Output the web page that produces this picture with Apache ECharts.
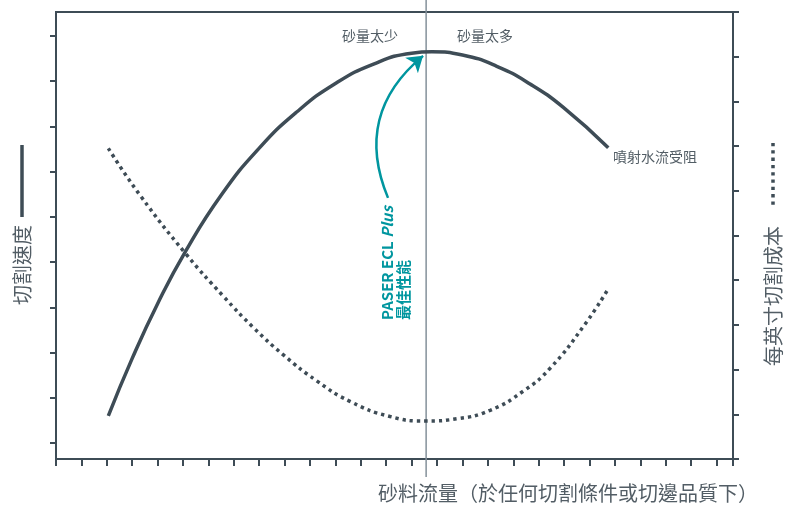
<!DOCTYPE html>
<html>
<head>
<meta charset="utf-8">
<script src="https://cdn.jsdelivr.net/npm/echarts@6/dist/echarts.min.js"></script>
<style>
  html, body { margin: 0; padding: 0; background: #fff; }
  #chart { width: 786px; height: 506px; }
</style>
</head>
<body>
<div id="chart"></div>
<script>
// 切割速度 (left axis) — [砂料流量, 速度]
const speedData = [
  [2.06, 1.60], [3.00, 2.87], [4.00, 4.08], [5.11, 5.25], [6.50, 6.48],
  [8.00, 7.52], [9.50, 8.33], [11.00, 8.95], [12.50, 9.38], [14.00, 9.62],
  [14.80, 9.65], [16.00, 9.58], [17.35, 9.33], [18.66, 8.94], [19.97, 8.42],
  [21.74, 7.53]
];
// 每英寸切割成本 (right axis)
const costData = [
  [2.06, 6.95], [3.31, 5.90], [5.11, 4.59], [6.59, 3.64], [7.77, 2.94],
  [8.95, 2.33], [10.26, 1.75], [11.57, 1.29], [13.15, 0.95], [14.57, 0.85],
  [15.78, 0.90], [17.09, 1.09], [18.40, 1.52], [19.45, 2.03], [20.83, 3.02],
  [21.73, 3.80]
];
// 最佳點分隔線 and arrow
const optimumX = 14.57;
const arrowCoords = [[13.07, 6.42], [14.45, 9.56]];
const leftTickValues = [1, 2, 3, 4, 5, 6, 7, 8, 9, 10];

const xName = '砂料流量（於任何切割條件或切邊品質下）';
const leftName = '切割速度';
const rightName = '每英寸切割成本';
const lowLabel = '砂量太少';
const highLabel = '砂量太多';
const blockLabel = '噴射水流受阻';
const tealLine1 = 'PASER ECL ';
const tealPlus = 'Plus';
const tealLine2 = '最佳性能';

const dark = '#3e4c56';
const grey = '#525d65';
const teal = '#00969f';
const font = '"Noto Sans CJK TC", "Noto Sans", sans-serif';

const chart = echarts.init(document.getElementById('chart'));

chart.setOption({
  animation: false,
  backgroundColor: '#fff',
  grid: {
    left: 56, right: 53, top: 12, bottom: 47,
    show: true, borderColor: dark, borderWidth: 2
  },
  xAxis: {
    type: 'value', min: 0, max: 26.65, interval: 1,
    axisLine: { show: true, lineStyle: { color: dark, width: 2 } },
    axisTick: { show: true, length: 7, lineStyle: { color: dark, width: 2 } },
    axisLabel: { show: false },
    splitLine: { show: false }
  },
  yAxis: [
    {
      type: 'value', position: 'left', min: 0.646, max: 10.53,
      axisLine: { show: true, lineStyle: { color: dark, width: 2 } },
      axisTick: { show: true, length: 6, customValues: leftTickValues, lineStyle: { color: dark, width: 2 } },
      axisLabel: { show: false },
      splitLine: { show: false }
    },
    {
      type: 'value', position: 'right', min: 0, max: 10, interval: 1,
      axisLine: { show: true, lineStyle: { color: dark, width: 2 } },
      axisTick: { show: true, length: 6, lineStyle: { color: dark, width: 2 } },
      axisLabel: { show: false },
      splitLine: { show: false }
    }
  ],
  series: [
    {
      type: 'custom',
      z: 1,
      clip: false,
      data: [[optimumX]],
      renderItem: function (params, api) {
        const cs = params.coordSys;
        const x = api.coord([api.value(0), 5])[0];
        return {
          type: 'line',
          shape: { x1: x, y1: 0, x2: x, y2: cs.y + cs.height + 18 },
          style: { stroke: '#84919a', lineWidth: 1.5 }
        };
      }
    },
    {
      type: 'line', name: '每英寸切割成本', yAxisIndex: 1, z: 3,
      data: costData, smooth: 0.5, showSymbol: false,
      lineStyle: { color: dark, width: 3.5, type: [3.3, 4], cap: 'butt' }
    },
    {
      type: 'line', name: '切割速度', yAxisIndex: 0, z: 4,
      data: speedData, smooth: 0.5, showSymbol: false,
      lineStyle: { color: dark, width: 3.5 }
    },
    {
      type: 'lines', coordinateSystem: 'cartesian2d', yAxisIndex: 0, z: 5,
      symbol: ['none', 'arrow'], symbolSize: 15,
      lineStyle: { color: teal, width: 2.5, curveness: 0.37, opacity: 1 },
      data: [{ coords: arrowCoords }]
    }
  ],
  graphic: [
    { type: 'line', shape: { x1: 22, y1: 145, x2: 22, y2: 217 }, style: { stroke: dark, lineWidth: 3.5 } },
    { type: 'text', x: 22, y: 265, rotation: Math.PI / 2,
      style: { text: leftName, font: '20px ' + font, fill: grey, align: 'center', verticalAlign: 'middle' } },
    { type: 'line', shape: { x1: 773, y1: 143, x2: 773, y2: 205 },
      style: { stroke: dark, lineWidth: 3.5, lineDash: [3.3, 4] } },
    { type: 'text', x: 773, y: 296, rotation: Math.PI / 2,
      style: { text: rightName, font: '20px ' + font, fill: grey, align: 'center', verticalAlign: 'middle' } },
    { type: 'text', x: 758, y: 493,
      style: { text: xName, font: '20px ' + font, fill: grey, align: 'right', verticalAlign: 'middle' } },
    { type: 'text', x: 370, y: 36,
      style: { text: lowLabel, font: '14px ' + font, fill: grey, align: 'center', verticalAlign: 'middle' } },
    { type: 'text', x: 485, y: 36,
      style: { text: highLabel, font: '14px ' + font, fill: grey, align: 'center', verticalAlign: 'middle' } },
    { type: 'text', x: 613, y: 157,
      style: { text: blockLabel, font: '14px ' + font, fill: grey, align: 'left', verticalAlign: 'middle' } },
    { type: 'text', x: 379, y: 320, rotation: Math.PI / 2,
      style: {
        text: '{a|' + tealLine1 + '}{b|' + tealPlus + '}\n{a|' + tealLine2 + '}',
        align: 'left', verticalAlign: 'top',
        rich: {
          a: { font: 'bold 15px ' + font, fill: teal, lineHeight: 16 },
          b: { font: 'italic bold 15px ' + font, fill: teal, lineHeight: 16 }
        }
      } }
  ]
});
</script>
</body>
</html>
